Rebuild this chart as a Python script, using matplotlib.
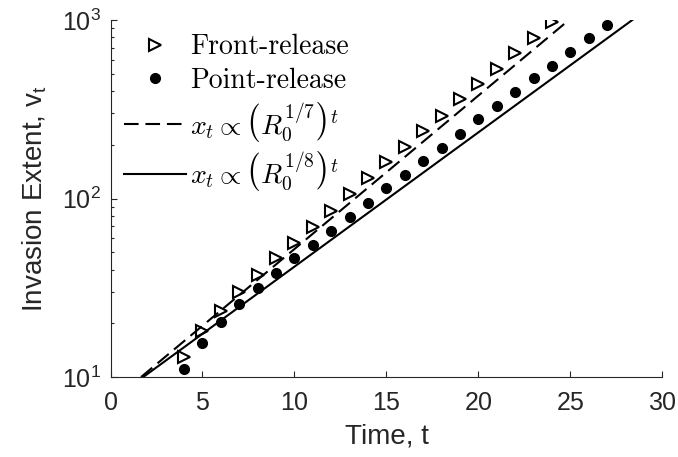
import numpy as np
import matplotlib
matplotlib.use("Agg")
import matplotlib.pyplot as plt
from matplotlib.ticker import LogLocator

plt.rcParams['font.family'] = ['Liberation Sans', 'DejaVu Sans']
plt.rcParams['mathtext.fontset'] = 'cm'
plt.rcParams['axes.formatter.use_mathtext'] = True

# simulated invasion extent per generation
t_front = np.arange(4, 25)
v_front = [12.9, 18.1, 23.4, 29.8, 37.3, 46.4, 56.5, 69.0, 85.4, 105.6, 130,
           160.8, 193.6, 239, 290, 360, 436, 531, 656, 795, 978]
t_point = np.arange(4, 28)
v_point = [11.1, 15.5, 20.3, 25.7, 31.6, 38.4, 46.2, 54.9, 66.0, 78.5, 94.0,
           115, 135.4, 162, 192.6, 229.8, 279, 330, 394, 471, 555, 664, 789, 937]

# theoretical growth x_t ~ (R0^(1/n))^t
R0 = 4.0
v0 = 10.0
fit7 = dict(n=7, t0=1.66, t1=24.8)
fit8 = dict(n=8, t0=1.78, t1=28.4)


def growth(fit):
    t = np.array([fit['t0'], fit['t1']])
    return t, v0 * R0 ** ((t - fit['t0']) / fit['n'])


fig = plt.figure(figsize=(6.78, 4.57), dpi=100)
ax = fig.add_axes([0.163, 0.175, 0.814, 0.781])

ax.plot(t_front, v_front, ls='none', marker='>', ms=9, mfc='white',
        mec='black', mew=1.5, label='Front-release')
ax.plot(t_point, v_point, ls='none', marker='o', ms=7, color='black',
        label='Point-release')
t7, x7 = growth(fit7)
ax.plot(t7, x7, color='black', lw=1.5, ls=(0, (7, 3.3)),
        label=r'$x_t \propto \left(R_0^{1/7}\right)^t$')
t8, x8 = growth(fit8)
ax.plot(t8, x8, color='black', lw=1.5,
        label=r'$x_t \propto \left(R_0^{1/8}\right)^t$')

ax.set_yscale('log')
ax.set_xlim(0, 30)
ax.set_ylim(10, 1000)
ax.set_xticks([0, 5, 10, 15, 20, 25, 30])
ax.yaxis.set_minor_locator(LogLocator(base=10, subs=np.arange(2, 10)))

for side in ['top', 'right']:
    ax.spines[side].set_visible(False)
for side in ['left', 'bottom']:
    ax.spines[side].set_color('#262626')
    ax.spines[side].set_linewidth(0.8)
ax.tick_params(which='both', direction='in', colors='#262626', labelsize=18,
               width=0.8)
ax.tick_params(which='major', length=4.5)
ax.tick_params(which='minor', length=2.5)
ax.tick_params(axis='x', pad=10)
ax.tick_params(axis='y', pad=7)

ax.set_xlabel('Time, t', fontsize=20, color='#262626', labelpad=6)
ax.set_ylabel(r'Invasion Extent, $\mathdefault{v_t}$', fontsize=20,
              color='#262626', labelpad=9)

leg = ax.legend(loc='upper left', frameon=False, prop={'family': 'cmr10', 'size': 20},
                handlelength=2.2, handletextpad=0.15, labelspacing=0.25,
                borderpad=0, borderaxespad=0.5, bbox_to_anchor=(0.0, 1.0))

plt.savefig('out.png', dpi=100)
